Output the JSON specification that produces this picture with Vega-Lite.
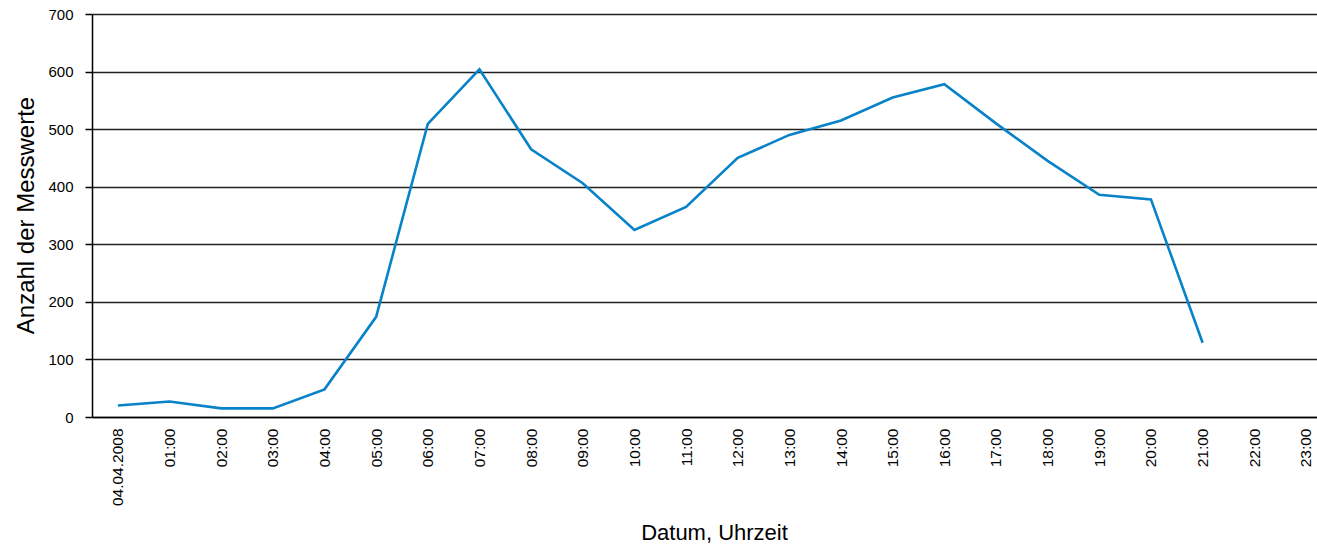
{
  "$schema": "https://vega.github.io/schema/vega-lite/v6.json",
  "width": 1225,
  "height": 403,
  "autosize": "none",
  "padding": {"left": 92, "top": 14, "right": 0, "bottom": 128},
  "background": "white",
  "config": {
    "view": {"stroke": null},
    "font": "Liberation Sans"
  },
  "data": {
    "values": [
      {"Zeit": "04.04.2008", "Anzahl": 20},
      {"Zeit": "01:00", "Anzahl": 27},
      {"Zeit": "02:00", "Anzahl": 15},
      {"Zeit": "03:00", "Anzahl": 15},
      {"Zeit": "04:00", "Anzahl": 48},
      {"Zeit": "05:00", "Anzahl": 174},
      {"Zeit": "06:00", "Anzahl": 509},
      {"Zeit": "07:00", "Anzahl": 604},
      {"Zeit": "08:00", "Anzahl": 465},
      {"Zeit": "09:00", "Anzahl": 406},
      {"Zeit": "10:00", "Anzahl": 325},
      {"Zeit": "11:00", "Anzahl": 365},
      {"Zeit": "12:00", "Anzahl": 450},
      {"Zeit": "13:00", "Anzahl": 490},
      {"Zeit": "14:00", "Anzahl": 515},
      {"Zeit": "15:00", "Anzahl": 555},
      {"Zeit": "16:00", "Anzahl": 578},
      {"Zeit": "17:00", "Anzahl": 510},
      {"Zeit": "18:00", "Anzahl": 445},
      {"Zeit": "19:00", "Anzahl": 386},
      {"Zeit": "20:00", "Anzahl": 378},
      {"Zeit": "21:00", "Anzahl": 129}
    ]
  },
  "mark": {"type": "line", "color": "#0882c8", "strokeWidth": 2.6},
  "encoding": {
    "x": {
      "field": "Zeit",
      "type": "ordinal",
      "scale": {
        "type": "point",
        "domain": ["04.04.2008", "01:00", "02:00", "03:00", "04:00", "05:00", "06:00", "07:00", "08:00", "09:00", "10:00", "11:00", "12:00", "13:00", "14:00", "15:00", "16:00", "17:00", "18:00", "19:00", "20:00", "21:00", "22:00", "23:00"],
        "padding": 0.358,
        "align": 0.7
      },
      "axis": {
        "title": "Datum, Uhrzeit",
        "titleFont": "Liberation Sans",
        "titleFontSize": 22,
        "titleFontWeight": "normal",
        "titleColor": "#000",
        "titleBaseline": "alphabetic",
        "titleAlign": "center",
        "titleX": 622,
        "titleY": 122,
        "labelAngle": 270,
        "labelAlign": "right",
        "labelBaseline": "middle",
        "labelFontSize": 15.5,
        "labelColor": "#000",
        "labelPadding": 11,
        "labelOverlap": false,
        "ticks": false,
        "grid": false,
        "domainColor": "#000",
        "domainWidth": 1.5
      }
    },
    "y": {
      "field": "Anzahl",
      "type": "quantitative",
      "scale": {"domain": [0, 700], "nice": false},
      "axis": {
        "title": "Anzahl der Messwerte",
        "titleFont": "Liberation Sans",
        "titleFontSize": 24,
        "titleFontWeight": "normal",
        "titleColor": "#000",
        "titleAngle": 270,
        "titleBaseline": "alphabetic",
        "titleAlign": "center",
        "titleX": -59,
        "titleY": 201,
        "values": [0, 100, 200, 300, 400, 500, 600, 700],
        "labelFontSize": 15,
        "labelColor": "#000",
        "labelPadding": 12,
        "tickSize": 7,
        "tickColor": "#000",
        "tickWidth": 1.5,
        "grid": true,
        "gridColor": "#222",
        "gridWidth": 1.5,
        "gridOpacity": 1,
        "domainColor": "#000",
        "domainWidth": 1.5
      }
    }
  }
}
